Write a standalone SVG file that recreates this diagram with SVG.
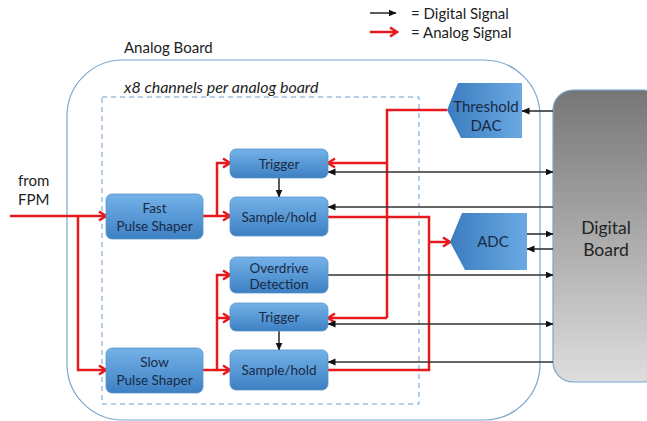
<svg xmlns="http://www.w3.org/2000/svg" width="647" height="421" viewBox="0 0 647 421">
<style>
text{font-family:Lato,"Open Sans","Liberation Sans",sans-serif;fill:#1b2436}
.lbl{font-size:15px;fill:#222}
.it{font-size:16px;font-style:italic;fill:#222}
.db{font-size:17.5px;text-anchor:middle;fill:#222}
.bt{font-size:13.5px;text-anchor:middle;fill:#1a2a45}
.pt{font-size:15px;text-anchor:middle;fill:#1a2a45}
.box{fill:url(#bg);stroke:#5b93c9;stroke-width:0.8}
.pent{fill:url(#pg);stroke:none}
.red{fill:none;stroke:#e8191c;stroke-width:2.5}
.redA{fill:none;stroke:#e8191c;stroke-width:2.5;marker-end:url(#ra)}
.blk{fill:none;stroke:#333;stroke-width:1.6;marker-end:url(#ba)}
.blk2{fill:none;stroke:#333;stroke-width:1.6;marker-end:url(#ba);marker-start:url(#ba)}
</style>
<defs>
<linearGradient id="bg" x1="0" y1="0" x2="0" y2="1">
<stop offset="0" stop-color="#74b2e8"/>
<stop offset="1" stop-color="#3d80c3"/>
</linearGradient>
<linearGradient id="pg" x1="0" y1="0" x2="1" y2="0">
<stop offset="0" stop-color="#3b7cc0"/>
<stop offset="1" stop-color="#6aa9e2"/>
</linearGradient>
<linearGradient id="dg" x1="0" y1="0" x2="0" y2="1">
<stop offset="0" stop-color="#767676"/>
<stop offset="1" stop-color="#dedede"/>
</linearGradient>
<marker id="ba" viewBox="0 0 8 8" refX="7.5" refY="4" markerWidth="8" markerHeight="8" markerUnits="userSpaceOnUse" orient="auto-start-reverse">
<path d="M0,0.5 L8,4 L0,7.5 z" fill="#111"/>
</marker>
<marker id="ra" viewBox="0 0 12 12" refX="10" refY="6" markerWidth="12" markerHeight="12" markerUnits="userSpaceOnUse" orient="auto">
<path d="M3,1.5 L10,6 L3,10.5" fill="none" stroke="#e8191c" stroke-width="2.5"/>
</marker>
</defs>

<g id="legend">
<line class="blk" x1="370" y1="13" x2="396" y2="13"/>
<text class="lbl" x="411" y="19">= Digital Signal</text>
<line class="redA" x1="370" y1="32" x2="397" y2="32"/>
<text class="lbl" x="411" y="38">= Analog Signal</text>
</g>

<g id="analog-board">
<rect x="67" y="60" width="473" height="360" rx="56" ry="56" fill="none" stroke="#7ba6cf" stroke-width="1.2"/>
<text class="lbl" x="124" y="53">Analog Board</text>
</g>

<g id="channels">
<rect x="102" y="97" width="317" height="307" fill="none" stroke="#6a9fd0" stroke-width="1" stroke-dasharray="5,4"/>
<text class="it" x="124" y="93">x8 channels per analog board</text>
</g>

<g id="digital-board">
<rect x="553" y="90" width="110" height="292" rx="20" ry="20" fill="url(#dg)" stroke="#7ba6cf" stroke-width="1.2"/>
<text class="db" x="606" y="234">Digital</text>
<text class="db" x="606" y="256">Board</text>
</g>

<g id="input-label">
<text class="lbl" x="18" y="186">from</text>
<text class="lbl" x="18" y="205">FPM</text>
</g>

<g id="connectors">
<line class="redA" x1="10" y1="216" x2="106" y2="216"/>
<polyline class="redA" points="78,216 78,370 106,370"/>
<line class="redA" x1="203" y1="216" x2="230" y2="216"/>
<polyline class="redA" points="217,216 217,163 230,163"/>
<line class="redA" x1="203" y1="370" x2="230" y2="370"/>
<polyline class="redA" points="217,370 217,275 230,275"/>
<line class="redA" x1="217" y1="318" x2="230" y2="318"/>
<polyline class="red" points="447,110 387,110 387,318"/>
<line class="redA" x1="387" y1="163" x2="328" y2="163"/>
<line class="redA" x1="387" y1="318" x2="328" y2="318"/>
<polyline class="red" points="328,217 429,217 429,370 328,370"/>
<line class="redA" x1="429" y1="242" x2="450" y2="242"/>
<line class="blk" x1="279" y1="178" x2="279" y2="197"/>
<line class="blk" x1="279" y1="331" x2="279" y2="350"/>
<line class="blk" x1="553" y1="111" x2="522" y2="111"/>
<line class="blk2" x1="328" y1="172" x2="553" y2="172"/>
<line class="blk" x1="553" y1="207" x2="328" y2="207"/>
<line class="blk" x1="527" y1="234" x2="553" y2="234"/>
<line class="blk" x1="553" y1="249" x2="527" y2="249"/>
<line class="blk" x1="328" y1="275" x2="553" y2="275"/>
<line class="blk2" x1="328" y1="324" x2="553" y2="324"/>
<line class="blk" x1="553" y1="362" x2="328" y2="362"/>
</g>

<g id="fast-pulse-shaper">
<rect class="box" x="106" y="194" width="97" height="45" rx="6"/>
<text class="bt" x="154.5" y="213">Fast</text>
<text class="bt" x="154.5" y="231">Pulse Shaper</text>
</g>
<g id="slow-pulse-shaper">
<rect class="box" x="106" y="348" width="97" height="45" rx="6"/>
<text class="bt" x="154.5" y="367">Slow</text>
<text class="bt" x="154.5" y="385">Pulse Shaper</text>
</g>
<g id="trigger-fast">
<rect class="box" x="230" y="149" width="98" height="29" rx="6"/>
<text class="bt" x="279" y="168.5">Trigger</text>
</g>
<g id="sample-hold-fast">
<rect class="box" x="230" y="197" width="98" height="39" rx="6"/>
<text class="bt" x="279" y="221.5">Sample/hold</text>
</g>
<g id="overdrive-detection">
<rect class="box" x="230" y="257" width="98" height="36" rx="6"/>
<text class="bt" x="279" y="273">Overdrive</text>
<text class="bt" x="279" y="289">Detection</text>
</g>
<g id="trigger-slow">
<rect class="box" x="230" y="303" width="98" height="28" rx="6"/>
<text class="bt" x="279" y="322">Trigger</text>
</g>
<g id="sample-hold-slow">
<rect class="box" x="230" y="350" width="98" height="40" rx="6"/>
<text class="bt" x="279" y="375">Sample/hold</text>
</g>
<g id="threshold-dac">
<polygon class="pent" points="458,83 522,83 522,138 461,138 447,110"/>
<text class="pt" x="486" y="112">Threshold</text>
<text class="pt" x="486" y="131">DAC</text>
</g>
<g id="adc">
<polygon class="pent" points="462,213 527,213 527,270 465,270 450,242"/>
<text class="pt" x="493" y="247">ADC</text>
</g>
</svg>
